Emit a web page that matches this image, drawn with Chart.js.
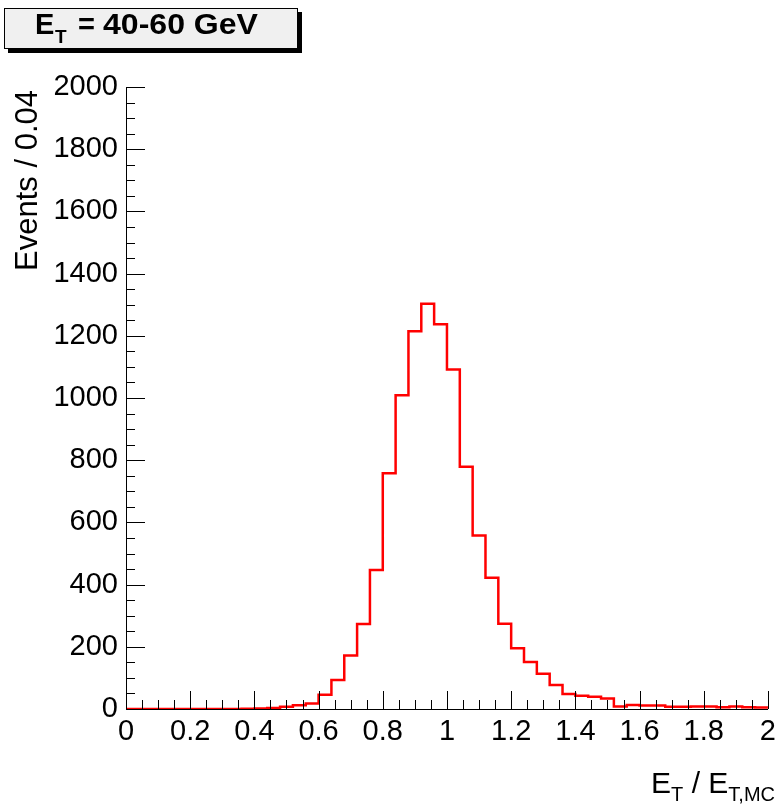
<!DOCTYPE html>
<html>
<head>
<meta charset="utf-8">
<script src="https://cdn.jsdelivr.net/npm/chart.js@4"></script>
<style>
  html, body { margin: 0; padding: 0; background: #fff; }
  #wrap { width: 782px; height: 805px; position: relative; }
</style>
</head>
<body>
<div id="wrap"><canvas id="c" width="782" height="805"></canvas></div>
<script>
// bin low edges (width 0.04) and counts per bin
const binLow = [0.00, 0.04, 0.08, 0.12, 0.16, 0.20, 0.24, 0.28, 0.32, 0.36,
  0.40, 0.44, 0.48, 0.52, 0.56, 0.60, 0.64, 0.68, 0.72, 0.76,
  0.80, 0.84, 0.88, 0.92, 0.96, 1.00, 1.04, 1.08, 1.12, 1.16,
  1.20, 1.24, 1.28, 1.32, 1.36, 1.40, 1.44, 1.48, 1.52, 1.56,
  1.60, 1.64, 1.68, 1.72, 1.76, 1.80, 1.84, 1.88, 1.92, 1.96];
const counts = [0, 0, 0, 0, 0, 0, 0, 0, 0, 1,
  2, 3, 7, 12, 18, 46, 93, 172, 273, 447,
  758, 1009, 1215, 1303, 1237, 1092, 779, 558, 422, 274,
  195, 151, 113, 77, 48, 43, 39, 34, 8, 13,
  11, 11, 7, 7, 8, 8, 6, 8, 6, 5];
const xMax = 2;
const yMax = 2000;
const xTickLabels = ["0", "0.2", "0.4", "0.6", "0.8", "1", "1.2", "1.4", "1.6", "1.8", "2"];

const FONT = "'Liberation Sans', Arial, Helvetica, sans-serif";

// histogram outline points: left edges plus the closing right edge
const pts = binLow.map((x, i) => ({ x: x, y: counts[i] }));
pts.push({ x: xMax, y: counts[counts.length - 1] });

// ROOT style ticks drawn inside the frame + labels
const rootDecor = {
  id: "rootDecor",
  afterDraw(chart) {
    const ctx = chart.ctx;
    const xs = chart.scales.x, ys = chart.scales.y;
    const x0 = xs.left, y0 = ys.bottom;
    ctx.save();
    ctx.strokeStyle = "#000";
    ctx.lineWidth = 1;
    ctx.beginPath();
    for (let v = 0; v <= yMax; v += 50) {
      const py = Math.round(ys.getPixelForValue(v)) + 0.5;
      const len = v % 200 === 0 ? 19 : 9;
      ctx.moveTo(x0, py);
      ctx.lineTo(x0 + len, py);
    }
    for (let k = 0; k <= 40; k++) {
      const px = Math.round(xs.getPixelForValue(k * 0.05)) + 0.5;
      const len = k % 4 === 0 ? 18 : 9;
      ctx.moveTo(px, y0);
      ctx.lineTo(px, y0 - len);
    }
    ctx.stroke();

    // title box with shadow
    ctx.fillStyle = "#000";
    ctx.fillRect(8, 12, 294, 41);
    ctx.fillStyle = "#f0f0f0";
    ctx.fillRect(4, 8, 294, 41);
    ctx.strokeRect(4.5, 8.5, 293, 40);

    ctx.fillStyle = "#000";
    ctx.textBaseline = "alphabetic";
    ctx.textAlign = "left";
    ctx.font = "bold 29px " + FONT;
    ctx.fillText("E", 35, 34);
    ctx.font = "bold 19px " + FONT;
    ctx.fillText("T", 55, 43);
    ctx.font = "bold 29px " + FONT;
    ctx.fillText("=", 78, 34);
    const rest = "40-60 GeV";
    const rw = ctx.measureText(rest).width;
    ctx.save();
    ctx.translate(103, 34);
    ctx.scale(155 / rw, 1);
    ctx.fillText(rest, 0, 0);
    ctx.restore();

    // y axis title
    ctx.save();
    ctx.translate(37, 90);
    ctx.rotate(-Math.PI / 2);
    ctx.textAlign = "right";
    ctx.font = "31px " + FONT;
    ctx.fillText("Events / 0.04", 0, 0);
    ctx.restore();

    // x axis title, right aligned
    const parts = [["E", 30, 0], ["T", 20, 8], [" / E", 30, 0], ["T,MC", 20, 8]];
    let w = 0;
    parts.forEach(p => { ctx.font = p[1] + "px " + FONT; w += ctx.measureText(p[0]).width; });
    let sx = 775 - w;
    parts.forEach(p => {
      ctx.font = p[1] + "px " + FONT;
      ctx.fillText(p[0], sx, 793 + p[2]);
      sx += ctx.measureText(p[0]).width;
    });
    ctx.restore();
  }
};

new Chart(document.getElementById("c"), {
  type: "line",
  data: {
    datasets: [{
      data: pts,
      stepped: true,
      borderColor: "#ff0000",
      borderWidth: 2.5,
      pointRadius: 0,
      fill: false,
    }],
  },
  options: {
    responsive: false,
    animation: false,
    events: [],
    layout: { padding: { left: 0, right: 9, top: 87, bottom: 0 } },
    plugins: { legend: { display: false }, tooltip: { enabled: false } },
    scales: {
      x: {
        type: "linear",
        min: 0,
        max: xMax,
        afterFit: (s) => { s.height = 96; },
        afterBuildTicks: (s) => { s.ticks = xTickLabels.map((t, i) => ({ value: i * 0.2 })); },
        grid: { display: false, drawTicks: false },
        border: { display: true, color: "#000", width: 1 },
        ticks: {
          color: "#000",
          font: { family: FONT, size: 29 },
          padding: 6,
          maxRotation: 0,
          autoSkip: false,
          callback: (v, i) => xTickLabels[i],
        },
      },
      y: {
        min: 0,
        max: yMax,
        afterFit: (s) => { s.width = 126; },
        grid: { display: false, drawTicks: false },
        border: { display: true, color: "#000", width: 1 },
        ticks: {
          color: "#000",
          stepSize: 200,
          font: { family: FONT, size: 29 },
          padding: 8,
          callback: (v) => String(v),
        },
      },
    },
  },
  plugins: [rootDecor],
});
</script>
</body>
</html>
